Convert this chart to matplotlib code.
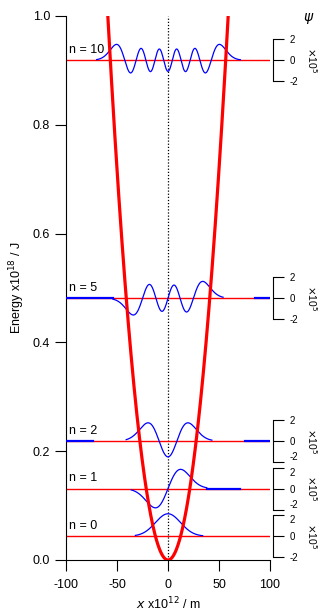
import numpy as np
import matplotlib
matplotlib.use('Agg')
import matplotlib.pyplot as plt
from matplotlib.transforms import blended_transform_factory
from math import factorial

plt.rcParams['font.family'] = ['Liberation Sans', 'DejaVu Sans']
plt.rcParams['axes.unicode_minus'] = False

# Oscillator data (energies in 1e-18 J, lengths in pm, psi in 1e5 m^-1/2)
levels = [0, 1, 2, 5, 10]
hbar_omega = 0.0875          # level spacing
x_turn = 59.0                # where the well reaches 1.0
psi_scale = 0.0193           # energy units per unit of psi on the right axes
wave_start = [-32, -36, -41, -54, -70]
wave_end = [34, 38, 43, 54, 71]
# flat psi = 0 stretches drawn by the original program
flat_parts = {1: [(38, 71)], 2: [(-100, -74), (75, 100)], 5: [(-100, -54), (85, 100)]}

energies = [hbar_omega * (n + 0.5) for n in levels]
x0 = x_turn * np.sqrt(hbar_omega / 2)      # sqrt(hbar/m omega) in pm


def psi(n, x):
    xi = x / x0
    h = np.polynomial.hermite.hermval(xi, [0] * n + [1])
    norm = (1 / (np.pi * (x0 * 1e-12) ** 2)) ** 0.25 / np.sqrt(2.0 ** n * factorial(n))
    return norm * h * np.exp(-xi ** 2 / 2) / 1e5


fig = plt.figure(figsize=(3.25, 6.12), dpi=100)
ax = fig.add_axes([66 / 325, 52 / 612, 204 / 325, 544 / 612])
ax.set_xlim(-100, 100)
ax.set_ylim(0, 1)
for s in ['top', 'right']:
    ax.spines[s].set_visible(False)
ax.set_xticks([-100, -50, 0, 50, 100])
ax.set_yticks([0.0, 0.2, 0.4, 0.6, 0.8, 1.0])
ax.set_yticklabels(['0.0', '0.2', '0.4', '0.6', '0.8', '1.0'])
ax.tick_params(axis='x', direction='out', length=8, pad=6, labelsize=9)
ax.tick_params(axis='y', direction='out', length=8, pad=3.5, labelsize=9)
ax.set_xlabel(r'$x$ x10$^{12}$ / m', fontsize=9, labelpad=3)
ax.set_ylabel(r'Energy x10$^{18}$ / J', fontsize=9, labelpad=4)

ax.plot([0, 0], [0, 1], color='black', lw=0.9, linestyle=(0, (1, 1.5)))

for n, E, xa, xb in zip(levels, energies, wave_start, wave_end):
    ax2 = ax.twinx()
    ax2.set_ylim((0 - E) / psi_scale, (1 - E) / psi_scale)
    for s in ['top', 'left', 'bottom']:
        ax2.spines[s].set_visible(False)
    ax2.spines['right'].set_position(('outward', 2))
    ax2.spines['right'].set_bounds(-2, 2)
    ax2.set_yticks([-2, 0, 2])
    ax2.tick_params(axis='y', direction='out', length=8, pad=4, labelsize=7)
    # neighbouring scales touch at the bottom: nudge the crowded labels apart
    labels = ax2.get_yticklabels()
    if n in (1, 2):
        labels[0].set_va('bottom')
    if n in (0, 1):
        labels[2].set_va('top')
    tr = blended_transform_factory(fig.transFigure, ax2.transData)
    ax2.text(312 / 325, 0, r'$\times$10$^5$', rotation=-90, ha='center', va='center',
             fontsize=7.5, transform=tr)

    ax.axhline(E, color='red', lw=1, zorder=2)
    xs = np.linspace(xa, xb, 400)
    ax.plot(xs, psi(n, xs), color='blue', lw=0.9, transform=ax2.transData, zorder=3)
    for fa, fb in flat_parts.get(n, []):
        ax.plot([fa, fb], [0, 0], color='blue', lw=1.6, transform=ax2.transData, zorder=3)
    ax.text(-97, E + 0.008, 'n = %d' % n, fontsize=9, ha='left', va='bottom', zorder=5)

ax.set_zorder(10)
ax.patch.set_visible(False)

xp = np.linspace(-x_turn, x_turn, 300)
ax.plot(xp, (xp / x_turn) ** 2, color='red', lw=2.3, zorder=4)

fig.text(309 / 325, 1 - 19 / 612, r'$\psi$', fontsize=10, ha='center', va='center')

fig.savefig('out.png', dpi=100)
